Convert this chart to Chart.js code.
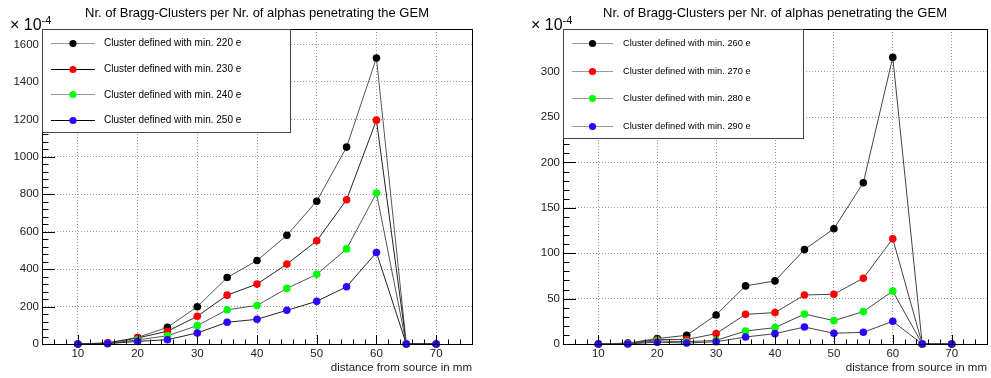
<!DOCTYPE html>
<html>
<head>
<meta charset="utf-8">
<script src="https://cdn.jsdelivr.net/npm/chart.js@4.4.1/dist/chart.umd.min.js"></script>
<style>
  html, body { margin: 0; padding: 0; background: #fff; }
  .box { position: absolute; top: 0; height: 378px; }
  #leftBox { left: 0; width: 495px; }
  #rightBox { left: 495px; width: 496px; }
</style>
</head>
<body>
<div class="box" id="leftBox"><canvas id="chartLeft"></canvas></div>
<div class="box" id="rightBox"><canvas id="chartRight"></canvas></div>
<script>
// distance from source (mm)
const distances = [10, 15, 20, 25, 30, 35, 40, 45, 50, 55, 60, 65, 70];

// left panel, values in units of 1e-4
const min220 = [0, 5, 35, 89, 199, 355, 446, 581, 763, 1052, 1528, 0, 0];
const min230 = [0, 6, 32, 68, 148, 261, 320, 427, 551, 771, 1196, 0, 0];
const min240 = [0, 3, 22, 44, 98, 183, 206, 297, 372, 508, 807, 0, 0];
const min250 = [0, 2, 14, 23, 59, 116, 132, 180, 228, 306, 489, 0, 0];

// right panel, values in units of 1e-4
const min260 = [0, 1, 6, 9.6, 32, 64, 69.5, 104, 127, 177.7, 315.7, 0, 0];
const min270 = [0, 0.5, 5, 5, 11.4, 32.7, 34.6, 54, 54.8, 72.5, 116, 0, 0];
const min280 = [0, 0.3, 3.5, 2.5, 4, 14.3, 18, 33, 25.7, 35.7, 58.2, 0, 0];
const min290 = [0, 0, 2, 1, 2.5, 7.7, 11.4, 18.7, 11.8, 12.9, 25, 0, 0];

const leftLabels = ['Cluster defined with min. 220 e', 'Cluster defined with min. 230 e',
                    'Cluster defined with min. 240 e', 'Cluster defined with min. 250 e'];
const rightLabels = ['Cluster defined with min. 260 e', 'Cluster defined with min. 270 e',
                     'Cluster defined with min. 280 e', 'Cluster defined with min. 290 e'];

const titleText = 'Nr. of Bragg-Clusters per Nr. of alphas penetrating the GEM';
const FONT = '"Liberation Sans", Arial, Helvetica, sans-serif';
const markerColors = ['#000000', '#ff0000', '#00ff00', '#3300ff'];

function makeDatasets(series, labels, lineColors) {
    return series.map((vals, i) => ({
        label: labels[i],
        data: distances.map((d, k) => ({ x: d, y: vals[k] })),
        borderColor: lineColors[i],
        borderWidth: 1,
        pointRadius: 3.8,
        pointBorderWidth: 0,
        pointBackgroundColor: markerColors[i],
        pointBorderColor: markerColors[i],
        tension: 0,
        clip: false,
        order: 3 - i   // last series on top, like ROOT
    }));
}

// ROOT-like decorations: frame, inward ticks, legend box, title, exponent
const rootStyle = {
    id: 'rootStyle',
    afterDraw(chart, args, opts) {
        const ctx = chart.ctx;
        const a = chart.chartArea;
        const xs = chart.scales.x, ys = chart.scales.y;
        ctx.save();

        // minor / major ticks drawn inward
        ctx.strokeStyle = '#000';
        ctx.lineWidth = 1;
        ctx.beginPath();
        for (let v = opts.xMin; v <= opts.xMax + 1e-9; v += opts.xMinor) {
            const px = Math.round(xs.getPixelForValue(v)) + 0.5;
            const major = Math.abs(v / opts.xMajor - Math.round(v / opts.xMajor)) < 1e-6;
            ctx.moveTo(px, a.bottom);
            ctx.lineTo(px, a.bottom - (major ? 9 : 4.5));
        }
        for (let v = 0; v <= ys.max + 1e-9; v += opts.yMinor) {
            const py = Math.round(ys.getPixelForValue(v)) + 0.5;
            const major = Math.abs(v / opts.yMajor - Math.round(v / opts.yMajor)) < 1e-6;
            ctx.moveTo(a.left, py);
            ctx.lineTo(a.left + (major ? 13 : 6.5), py);
        }
        ctx.stroke();

        // frame
        ctx.strokeStyle = '#000';
        ctx.strokeRect(Math.round(a.left) + 0.5, Math.round(a.top) + 0.5,
                       Math.round(a.right - a.left), Math.round(a.bottom - a.top));

        // legend
        const lg = opts.legend;
        const lx = Math.round(a.left) + 0.5, ly = Math.round(a.top) + 0.5;
        ctx.fillStyle = '#fff';
        ctx.fillRect(lx, ly, lg.w, lg.h);
        ctx.strokeStyle = '#444';
        ctx.strokeRect(lx, ly, lg.w, lg.h);
        ctx.font = lg.font + 'px ' + FONT;
        ctx.textBaseline = 'middle';
        ctx.textAlign = 'left';
        chart.data.datasets.forEach((ds, i) => {
            const y = a.top + lg.y0 + i * lg.dy;
            ctx.strokeStyle = lg.lineColors[i];
            ctx.beginPath();
            ctx.moveTo(a.left + lg.l0, Math.round(y) + 0.5);
            ctx.lineTo(a.left + lg.l1, Math.round(y) + 0.5);
            ctx.stroke();
            ctx.fillStyle = ds.pointBackgroundColor;
            ctx.beginPath();
            ctx.arc(a.left + (lg.l0 + lg.l1) / 2, Math.round(y) + 0.5, 3.6, 0, Math.PI * 2);
            ctx.fill();
            ctx.fillStyle = '#000';
            ctx.fillText(ds.label, a.left + lg.tx, y + 0.5);
        });

        // title
        ctx.fillStyle = '#000';
        ctx.font = '13px ' + FONT;
        ctx.textAlign = 'center';
        ctx.textBaseline = 'alphabetic';
        ctx.fillText(titleText, (a.left + a.right) / 2, 17);

        // exponent label
        ctx.textAlign = 'left';
        ctx.font = '16px ' + FONT;
        const ex = a.left - 32;
        ctx.fillText('\u00d7 10', ex, 30);
        const w = ctx.measureText('\u00d7 10').width;
        ctx.font = '11px ' + FONT;
        ctx.fillText('-4', ex + w, 24);

        ctx.restore();
    }
};

function renderPanel(canvasId, series, labels, opt) {
    const el = document.getElementById(canvasId);
    return new Chart(el.getContext('2d'), {
        type: 'line',
        data: { datasets: makeDatasets(series, labels, opt.lineColors) },
        plugins: [rootStyle],
        options: {
            responsive: true,
            maintainAspectRatio: false,
            animation: false,
            layout: { padding: { top: 29, right: opt.padRight, bottom: 0, left: 0 } },
            plugins: {
                legend: { display: false },
                tooltip: { enabled: false },
                rootStyle: {
                    xMin: 4, xMax: 76, xMinor: 2, xMajor: 10,
                    yMinor: opt.yMinor, yMajor: opt.yMajor,
                    legend: opt.legend
                }
            },
            scales: {
                x: {
                    type: 'linear',
                    min: 4,
                    max: 76,
                    afterFit: s => { s.height = 34; },
                    ticks: {
                        stepSize: 10,
                        includeBounds: false,
                        padding: 3,
                        color: '#222',
                        font: { family: FONT, size: 11.5 },
                        callback: v => String(v)
                    },
                    grid: { color: '#999', lineWidth: 1, drawTicks: false },
                    border: { display: false, dash: [1, 2] },
                    title: {
                        display: true,
                        text: 'distance from source in mm',
                        align: 'end',
                        color: '#222',
                        font: { family: FONT, size: 11.5 },
                        padding: { top: 0, bottom: 3 }
                    }
                },
                y: {
                    min: 0,
                    max: opt.yMax,
                    afterFit: s => { s.width = opt.yWidth; },
                    ticks: {
                        stepSize: opt.yMajor,
                        includeBounds: false,
                        padding: 3,
                        color: '#222',
                        font: { family: FONT, size: 11.5 },
                        callback: v => String(v)
                    },
                    grid: { color: '#999', lineWidth: 1, drawTicks: false },
                    border: { display: false, dash: [1, 2] }
                }
            }
        }
    });
}

renderPanel('chartLeft', [min220, min230, min240, min250], leftLabels, {
    lineColors: ['#555', '#222', '#555', '#222'],
    padRight: 23,
    yWidth: 42,
    yMax: 1683,
    yMajor: 200,
    yMinor: 40,
    legend: { w: 248, h: 103, y0: 14, dy: 25.7, l0: 9, l1: 53, tx: 62, font: 10,
              lineColors: ['#999', '#000', '#999', '#000'] }
});

renderPanel('chartRight', [min260, min270, min280, min290], rightLabels, {
    lineColors: ['#444', '#444', '#444', '#444'],
    padRight: 1,
    yWidth: 68,
    yMax: 347,
    yMajor: 50,
    yMinor: 10,
    legend: { w: 240, h: 109, y0: 14, dy: 27.7, l0: 9, l1: 50, tx: 60, font: 9.3,
              lineColors: ['#999', '#999', '#999', '#999'] }
});
</script>
</body>
</html>
